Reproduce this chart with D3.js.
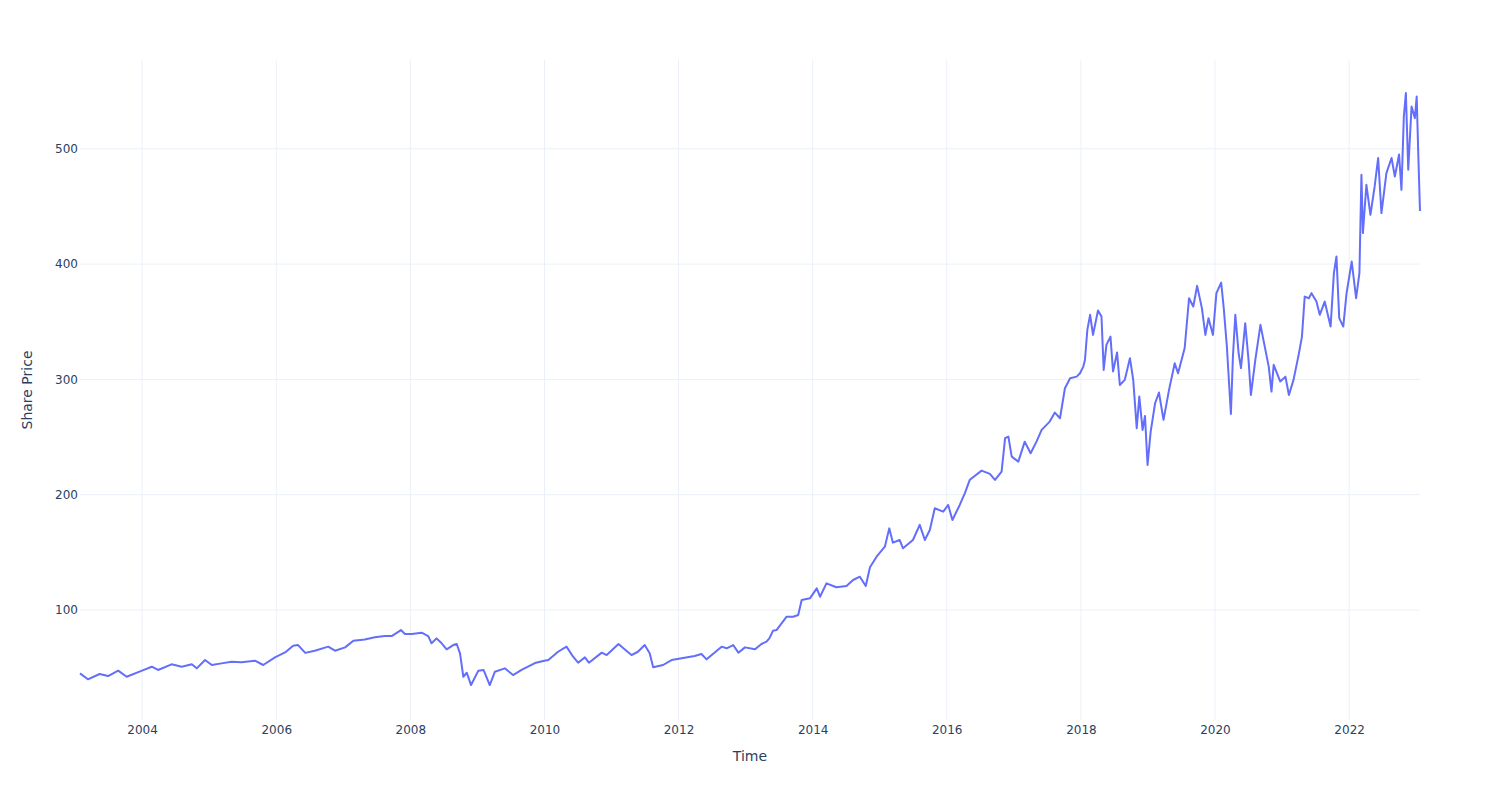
<!DOCTYPE html>
<html>
  <head>
    <meta charset="utf-8" />
    <title>Share Price</title>
    <script src="https://d3js.org/d3.v7.min.js"></script>
    <style>
        body { margin: 0; background: #fff; }
        text { font-family: "DejaVu Sans", Verdana, sans-serif; fill: #2a3f5f; }
    </style>
  </head>
  <body>
    <svg id="viz"></svg>
    <script>
    // dates and prices
    var dates = [
      "2003-01-28","2003-03-12","2003-05-15","2003-06-30","2003-08-24","2003-10-09",
      "2004-01-01","2004-02-23","2004-03-28","2004-06-10","2004-08-04","2004-09-28","2004-10-25","2004-12-09",
      "2005-01-15","2005-03-09","2005-05-02","2005-06-26","2005-09-07","2005-10-22","2005-12-25",
      "2006-02-18","2006-04-03","2006-04-30","2006-06-08","2006-07-30","2006-10-11","2006-11-17",
      "2007-01-11","2007-02-25","2007-04-28","2007-06-22","2007-08-16","2007-09-22","2007-11-11","2007-12-03",
      "2008-01-09","2008-03-03","2008-04-08","2008-04-26","2008-05-23","2008-06-20","2008-07-17","2008-08-22",
      "2008-09-10","2008-09-28","2008-10-16","2008-11-04","2008-11-27",
      "2009-01-06","2009-02-03","2009-03-09","2009-04-06","2009-05-30","2009-07-14","2009-08-29","2009-11-10","2009-12-31",
      "2010-01-22","2010-03-16","2010-05-01","2010-06-06","2010-07-03","2010-08-09","2010-08-31","2010-11-09","2010-12-06",
      "2011-02-08","2011-03-23","2011-04-20","2011-05-25","2011-07-01","2011-07-28","2011-08-16","2011-10-09","2011-11-24",
      "2012-01-18","2012-03-29","2012-05-05","2012-06-02","2012-08-23","2012-09-19","2012-10-25","2012-11-22","2012-12-28",
      "2013-02-21","2013-03-28","2013-04-24","2013-05-10","2013-05-30","2013-06-18","2013-08-12","2013-09-17","2013-10-14",
      "2013-11-02","2013-12-17",
      "2014-01-23","2014-02-10","2014-03-17","2014-05-10","2014-07-04","2014-08-09","2014-09-15","2014-10-17","2014-11-09",
      "2014-12-15",
      "2015-01-29","2015-02-22","2015-03-14","2015-04-20","2015-05-08","2015-07-01","2015-08-07","2015-09-04","2015-10-01",
      "2015-10-28","2015-12-13",
      "2016-01-09","2016-02-01","2016-03-12","2016-04-09","2016-05-06","2016-07-09","2016-08-23","2016-09-20","2016-10-26",
      "2016-11-14","2016-12-02","2016-12-20",
      "2017-01-25","2017-03-01","2017-04-02","2017-05-04","2017-06-01","2017-07-15","2017-08-12","2017-09-09","2017-10-06",
      "2017-11-03","2017-12-09","2017-12-27",
      "2018-01-14","2018-01-23","2018-02-05","2018-02-20","2018-03-08","2018-04-04","2018-04-23","2018-05-05","2018-05-20",
      "2018-06-11","2018-06-25","2018-07-17","2018-08-01","2018-08-28","2018-09-25","2018-10-13","2018-11-01","2018-11-15",
      "2018-12-03","2018-12-16","2018-12-30",
      "2019-01-16","2019-02-09","2019-03-02","2019-03-27","2019-04-26","2019-05-27","2019-06-14","2019-07-20","2019-08-13",
      "2019-09-05","2019-09-26","2019-10-22","2019-11-10","2019-11-27","2019-12-21",
      "2020-01-09","2020-02-04","2020-02-18","2020-03-06","2020-03-28","2020-04-08","2020-04-21","2020-05-09","2020-05-22",
      "2020-06-14","2020-07-02","2020-07-15","2020-08-08","2020-09-05","2020-09-23","2020-10-20","2020-11-04","2020-11-16",
      "2020-12-22",
      "2021-01-19","2021-02-07","2021-03-04","2021-04-01","2021-04-19","2021-05-04","2021-05-27","2021-06-10","2021-07-07",
      "2021-07-25","2021-08-21","2021-09-22","2021-10-10","2021-10-24","2021-11-08","2021-11-30","2021-12-18",
      "2022-01-15","2022-02-08","2022-02-26","2022-03-09","2022-03-17","2022-04-05","2022-04-27","2022-05-20","2022-06-08",
      "2022-06-26","2022-07-23","2022-08-20","2022-09-07","2022-09-30","2022-10-13","2022-10-26","2022-11-06","2022-11-19",
      "2022-12-07","2022-12-25",
      "2023-01-04","2023-01-13","2023-01-22"
    ];
    var prices = [
      45, 39.9, 44.5, 42.7, 47.4, 42.1,
      47.4, 50.8, 48, 52.9, 50.8, 52.9, 49.4, 56.6,
      52.3, 53.7, 55.1, 54.6, 56, 52.3, 58.9,
      63.2, 69, 69.6, 62.8, 64.7, 68.2, 64.7,
      67.6, 73.4, 74.5, 76.3, 77.4, 77.4, 82.6, 79.2,
      79.2, 80.3, 77.4, 71.1, 75.4, 71.1, 65.9, 69.6,
      70.5, 62.4, 42.1, 45.6, 34.9,
      47.4, 48, 34.9, 46.5, 49.4, 43.6, 48, 54, 56,
      56.6, 63.8, 68.2, 59.5, 54.3, 58.9, 54.3, 63, 60.9,
      70.5, 64.7, 60.9, 63.8, 69.6, 62.4, 50.3, 52.3, 56.6,
      58.1, 60.1, 61.8, 57.2, 68.2, 66.8, 69.6, 63, 67.6,
      65.9, 70.5, 72.5, 75.4, 82.1, 82.6, 94.2, 94.2, 95.7,
      108.7, 110.1,
      118.8, 111.5, 123.1, 119.7, 120.8, 126, 128.9, 120.8, 137,
      146.2,
      154.9, 170.8, 158.4, 160.7, 153.5, 160.7, 173.8, 160.7, 169.4,
      188.2, 185.3,
      191.1, 178.1, 191.1, 201.3, 213, 220.9, 218, 212.8, 220,
      249, 250.4, 233,
      228.7, 246, 235.9, 246, 256.2, 263.4, 271.2, 266.3, 292.3,
      301, 302.4, 305.3,
      311.1, 316.9, 342.9, 356, 338.6, 359.7, 354.5, 308.2, 329.9,
      337.1, 306.8, 323.3, 295.2, 299.6, 318.4, 299.6, 257.6, 285.1,
      256.2, 268.3, 225.8,
      254.7, 279.3, 288.6, 264.9, 290.9, 314, 305.3, 327, 370.4,
      363.2, 381.1, 361.8, 338.6, 353.1, 338.6,
      374.8, 384, 361.8, 328.5, 270, 319.8, 356, 322.7, 309.7,
      348.7, 316.9, 286.5, 316.9, 347.3, 332.8, 311.1, 289.4, 312.6,
      298.1,
      302.4, 286.5, 299.6, 321.3, 337.1, 371.8, 370.4, 374.8, 367.5,
      356, 367.5, 345.8, 392.2, 406.6, 353.1, 345.8, 374.8,
      402.2, 370.4, 392.2, 477.5, 426.9, 468.8, 442.7, 467.3, 492,
      444.2, 478.9, 492, 476, 495, 464.4, 528, 548.3, 481.8,
      536.7, 526.6,
      545.3, 493.3, 446
    ];
    var yTicks = [100, 200, 300, 400, 500];
    var yDomain = [4.6, 577];

    var width = 1500, height = 800;
    var margin = {top: 60, right: 80, bottom: 80, left: 80};

    var svg = d3.select("#viz")
      .attr("width", width)
      .attr("height", height);

    var parse = d3.timeParse("%Y-%m-%d");
    var data = dates.map(function(d, i) {
      return {date: parse(d), price: prices[i]};
    });

    var x = d3.scaleTime()
      .domain(d3.extent(data, function(d) { return d.date; }))
      .range([margin.left, width - margin.right]);

    var y = d3.scaleLinear()
      .domain(yDomain)
      .range([height - margin.bottom, margin.top]);

    var xTicks = x.ticks(d3.timeYear.every(2));

    // grid
    svg.append("g")
      .selectAll("line")
      .data(xTicks)
      .enter().append("line")
      .attr("x1", function(d) { return x(d); })
      .attr("x2", function(d) { return x(d); })
      .attr("y1", margin.top)
      .attr("y2", height - margin.bottom)
      .attr("stroke", "#ebf0f8")
      .attr("stroke-width", 1);

    svg.append("g")
      .selectAll("line")
      .data(yTicks)
      .enter().append("line")
      .attr("x1", margin.left)
      .attr("x2", width - margin.right)
      .attr("y1", function(d) { return y(d); })
      .attr("y2", function(d) { return y(d); })
      .attr("stroke", "#ebf0f8")
      .attr("stroke-width", 1);

    // axes (labels only, like plotly)
    var xAxis = svg.append("g")
      .attr("transform", "translate(0," + (height - margin.bottom) + ")")
      .call(d3.axisBottom(x).tickValues(xTicks).tickFormat(d3.timeFormat("%Y")).tickSize(0).tickPadding(5));
    xAxis.select(".domain").remove();

    var yAxis = svg.append("g")
      .attr("transform", "translate(" + margin.left + ",0)")
      .call(d3.axisLeft(y).tickValues(yTicks).tickSize(0).tickPadding(2));
    yAxis.select(".domain").remove();

    svg.selectAll(".tick text")
      .attr("font-family", "DejaVu Sans, Verdana, sans-serif")
      .attr("font-size", 12)
      .attr("fill", "#2a3f5f");

    // line
    var line = d3.line()
      .x(function(d) { return x(d.date); })
      .y(function(d) { return y(d.price); });

    svg.append("path")
      .datum(data)
      .attr("d", line)
      .attr("fill", "none")
      .attr("stroke", "#636efa")
      .attr("stroke-width", 2)
      .attr("stroke-linejoin", "round");

    // titles
    svg.append("text")
      .attr("x", (margin.left + width - margin.right) / 2)
      .attr("y", 761)
      .attr("text-anchor", "middle")
      .attr("font-size", 14)
      .text("Time");

    svg.append("text")
      .attr("transform", "translate(32," + ((margin.top + height - margin.bottom) / 2) + ") rotate(-90)")
      .attr("text-anchor", "middle")
      .attr("font-size", 14)
      .text("Share Price");
    </script>
  </body>
</html>
